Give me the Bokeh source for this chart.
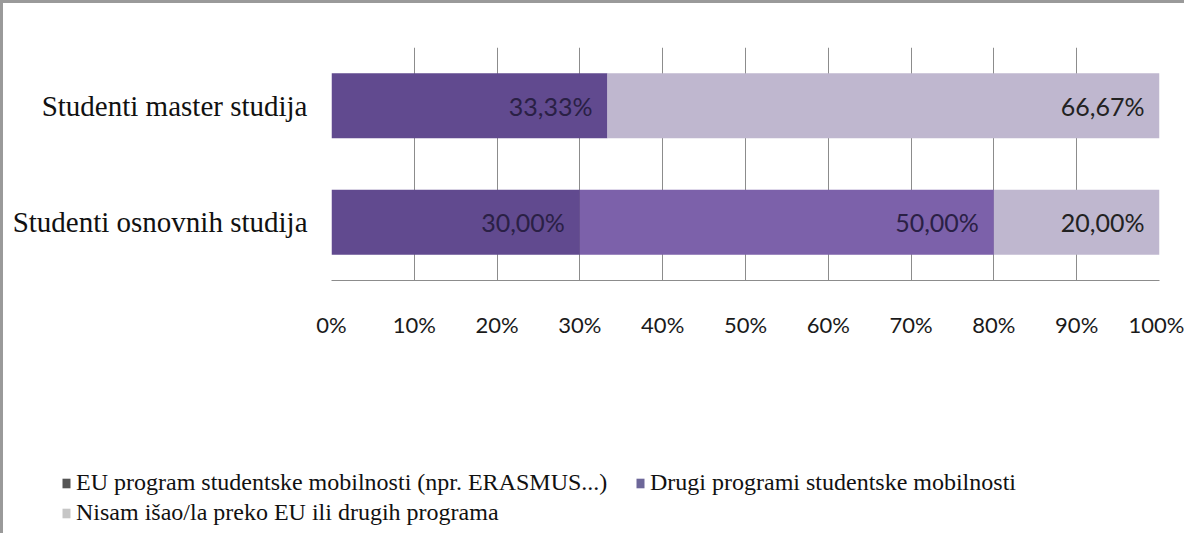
from bokeh.plotting import figure
from bokeh.models import ColumnDataSource, FactorRange, FixedTicker, Legend, LegendItem
from bokeh.layouts import column
from bokeh.core.properties import value
from bokeh.embed import file_html
from bokeh.resources import INLINE

# ---- data ----
categories = ["Studenti osnovnih studija", "Studenti master studija"]
series_names = ["EU program studentske mobilnosti (npr. ERASMUS...)",
                "Drugi programi studentske mobilnosti",
                "Nisam išao/la preko EU ili drugih programa"]
eu_values = [30.00, 33.33]
drugi_values = [50.00, 0.00]
nisam_values = [20.00, 66.67]
tick_values = [0, 10, 20, 30, 40, 50, 60, 70, 80, 90, 100]
tick_labels = ["0%", "10%", "20%", "30%", "40%", "50%", "60%", "70%", "80%", "90%", "100%"]

bar_colors = ["#614a8f", "#7c61aa", "#bfb7cf"]
legend_colors = ["#555555", "#6d6799", "#c6c6c6"]
label_colors = ["#2a2045", "#2a2045", "#222222"]

SERIF = "Liberation Serif"
SANS = "Lato"
BORDER = "3px solid #9a9a9a"
NAN = float("nan")

p = figure(y_range=FactorRange(factors=categories), x_range=(0, 100),
           frame_width=825, frame_height=230,
           min_border_left=328, min_border_right=28, min_border_top=44, min_border_bottom=126,
           output_backend="svg", toolbar_location=None, tools="")
p.frame_align = False
p.background_fill_color = "white"
p.border_fill_color = "white"
p.outline_line_color = None
p.styles = {"border-top": BORDER, "border-left": BORDER}

src = ColumnDataSource(dict(cat=categories, eu=eu_values, drugi=drugi_values, nisam=nisam_values))
p.hbar_stack(["eu", "drugi", "nisam"], y="cat", height=0.56, color=bar_colors,
             line_color=None, source=src)

# data labels at inside end of each segment
lx, ly, lt, lc = [], [], [], []
cols = [eu_values, drugi_values, nisam_values]
for i, cat in enumerate(categories):
    cum = 0.0
    for s in range(3):
        v = cols[s][i]
        cum += v
        if v > 0:
            lx.append(cum)
            ly.append(cat)
            lt.append(("%.2f" % v).replace(".", ",") + "%")
            lc.append(label_colors[s])
lsrc = ColumnDataSource(dict(x=lx, y=ly, t=lt, c=lc))
p.text(x="x", y="y", text="t", source=lsrc, text_align="right", text_baseline="middle",
       x_offset=-15, text_color="c", text_font=value(SANS), text_font_size="25px")

# axes
p.xaxis.ticker = FixedTicker(ticks=tick_values)
p.xaxis.major_label_overrides = {v: l for v, l in zip(tick_values, tick_labels)}
p.xaxis.axis_line_color = "#8c8c8c"
p.xaxis.major_tick_line_color = None
p.xaxis.minor_tick_line_color = None
p.xaxis.major_label_standoff = 24
p.xaxis.major_label_text_font = SANS
p.xaxis.major_label_text_font_size = "22px"
p.xaxis.major_label_text_color = "#1a1a1a"

p.yaxis.axis_line_color = None
p.yaxis.major_tick_line_color = None
p.yaxis.minor_tick_line_color = None
p.yaxis.major_label_standoff = 18
p.yaxis.major_label_text_font = SERIF
p.yaxis.major_label_text_font_size = "29px"
p.yaxis.major_label_text_color = "#111111"

p.xgrid.grid_line_color = "#8c8c8c"
p.xgrid.grid_line_width = 1
p.ygrid.grid_line_color = None

# ---- legend panel ----
q = figure(width=1181, height=130, x_range=(0, 1), y_range=(0, 1),
           min_border=0, output_backend="svg", toolbar_location=None, tools="")
q.frame_align = False
q.axis.visible = False
q.grid.visible = False
q.outline_line_color = None
q.background_fill_color = "white"
q.border_fill_color = "white"
q.styles = {"border-left": BORDER}

dummies = []
for c in legend_colors:
    r = q.quad(left=[NAN], right=[NAN], bottom=[NAN], top=[NAN], fill_color=c, line_color=None)
    dummies.append(r)

def make_legend(idx, loc):
    lg = Legend(items=[LegendItem(label=series_names[idx], renderers=[dummies[idx]])],
                location=loc, orientation="horizontal",
                glyph_width=10, glyph_height=12, label_standoff=5,
                padding=0, margin=0, spacing=0,
                border_line_color=None, background_fill_alpha=0,
                label_text_font=SERIF, label_text_font_size="24px",
                label_text_color="#111111")
    q.add_layout(lg, "center")

make_legend(0, (58, 37))
make_legend(1, (632, 37))
make_legend(2, (58, 7))

layout = column(p, q, spacing=0)
open("out.html", "w").write(file_html(layout, INLINE))
